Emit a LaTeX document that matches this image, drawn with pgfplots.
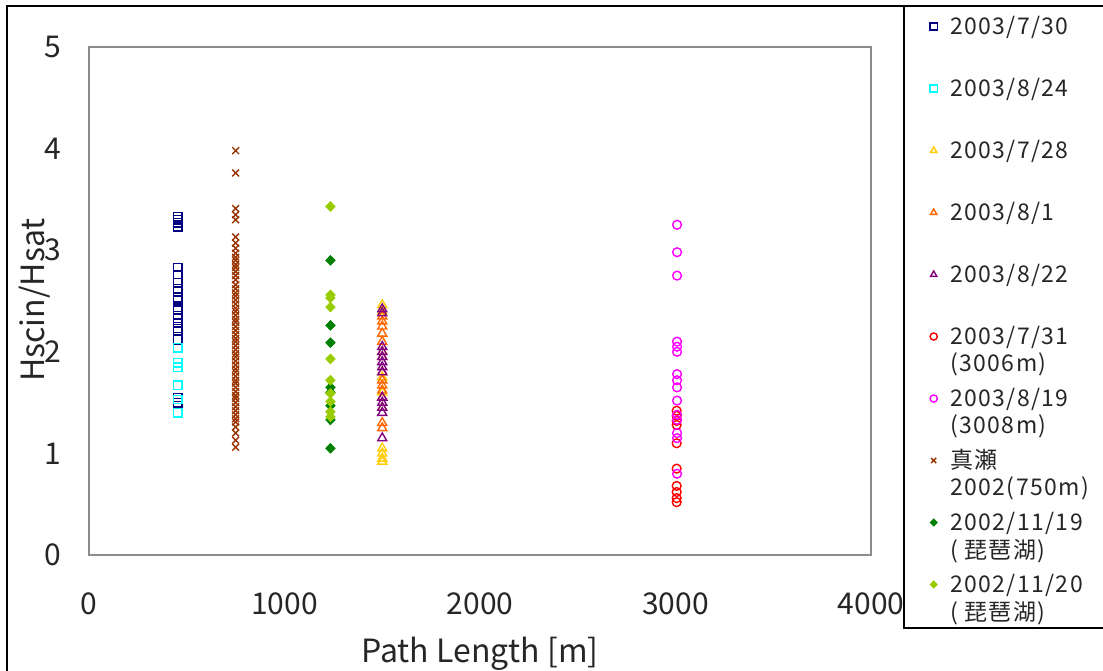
\documentclass[border=0pt]{standalone}
\usepackage{fontspec}
\setmainfont{Noto Sans CJK JP}
\usepackage{pgfplots}
\pgfplotsset{compat=1.18}
\definecolor{cNavy}{HTML}{000080}
\definecolor{cCyan}{HTML}{00FFFF}
\definecolor{cGold}{HTML}{FFCC00}
\definecolor{cOrange}{HTML}{FF6600}
\definecolor{cPurple}{HTML}{800080}
\definecolor{cRed}{HTML}{FF0000}
\definecolor{cMagenta}{HTML}{FF00FF}
\definecolor{cBrown}{HTML}{993300}
\definecolor{cDkGreen}{HTML}{008000}
\definecolor{cLtGreen}{HTML}{99CC00}
\newcommand{\two}[2]{\begin{tabular}[t]{@{}l@{}}#1\\#2\end{tabular}}
\begin{document}
\begin{tikzpicture}
\useasboundingbox (0,0) rectangle (551.5pt,335pt);
% frame and legend box
\draw[line width=1pt] (3.5pt,-5pt) -- (3.5pt,332pt) -- (560pt,332pt);
\draw[line width=0.8pt] (452pt,332pt) -- (452pt,21pt) -- (560pt,21pt);
\begin{axis}[
  at={(44.5pt,57.5pt)}, anchor=south west,
  scale only axis, width=391pt, height=254pt,
  xmin=0, xmax=4000, ymin=0, ymax=5,
  xtick={0,1000,2000,3000,4000}, ytick={0,1,2,3,4,5},
  major tick length=0pt,
  axis line style={draw=black!45, line width=0.8pt},
  tick label style={font=\fontsize{15}{18}\selectfont, text=black!85},
  /pgf/number format/assume math mode=true,
  scaled x ticks=false,
  xticklabel style={/pgf/number format/1000 sep={}, inner sep=0pt, yshift=-18.5pt},
  yticklabel style={inner sep=0pt, xshift=-13.5pt},
  xlabel={Path Length [m]},
  xlabel style={at={(axis description cs:0.5,-0.194)}, anchor=center, font=\fontsize{16}{19}\selectfont, text=black!85},
  ylabel={Hscin/Hsat},
  ylabel style={at={(axis description cs:-0.069,0.502)}, anchor=center, font=\fontsize{16}{19}\selectfont, text=black!85},
  legend style={at={(axis description cs:1.0674,1.110)}, anchor=north west, draw=none, fill=none,
    font=\fontsize{11.5}{13.5}\selectfont\addfontfeatures{LetterSpace=6}, text=black!85, row sep=0pt,
    nodes={inner sep=0pt, text height=19.7pt, text depth=11.3pt},
    /tikz/every odd column/.append style={column sep=6.5pt}},
  legend cell align=left,
  legend image code/.code={\draw[mark repeat=2,mark phase=2,mark size=1.8pt] plot coordinates {(0cm,0cm) (0.15cm,0cm) (0.3cm,0cm)};},
  every axis plot/.append style={only marks, mark options={line width=0.7pt}},
]
\addplot[color=cNavy, mark=square, mark size=2.1pt] coordinates {
 (455,3.33) (455,3.30) (455,3.27) (455,3.23) (455,2.83) (455,2.76) (455,2.68) (455,2.62)
 (455,2.59) (455,2.53) (455,2.51) (455,2.44) (455,2.41) (455,2.33) (455,2.28) (455,2.23)
 (455,2.21) (455,2.12) (455,1.55) (455,1.50)};
\addplot[color=cCyan, mark=square, mark size=2.1pt] coordinates {
 (455,2.04) (455,1.89) (455,1.85) (455,1.67) (455,1.53) (455,1.40)};
\addplot[color=cGold, mark=triangle, mark size=2.6pt] coordinates {
 (1500,2.46) (1500,2.40) (1500,2.00) (1500,1.75) (1500,1.60) (1500,1.45)
 (1500,1.05) (1500,1.00) (1500,0.95) (1500,0.92)};
\addplot[color=cOrange, mark=triangle, mark size=2.6pt] coordinates {
 (1500,2.35) (1500,2.30) (1500,2.25) (1500,2.18) (1500,2.10) (1500,1.95) (1500,1.80)
 (1500,1.72) (1500,1.67) (1500,1.62) (1500,1.55) (1500,1.30) (1500,1.25)};
\addplot[color=cPurple, mark=triangle, mark size=2.6pt] coordinates {
 (1500,2.42) (1500,2.38) (1500,2.05) (1500,2.00) (1500,1.95) (1500,1.90) (1500,1.85)
 (1500,1.80) (1500,1.55) (1500,1.50) (1500,1.45) (1500,1.40) (1500,1.15)};
\addplot[color=cRed, mark=o, mark size=2.2pt] coordinates {
 (3006,1.42) (3006,1.37) (3006,1.32) (3006,1.28) (3006,1.10) (3006,0.85)
 (3006,0.68) (3006,0.62) (3006,0.56) (3006,0.52)};
\addplot[color=cMagenta, mark=o, mark size=2.2pt] coordinates {
 (3008,3.25) (3008,2.98) (3008,2.75) (3008,2.10) (3008,2.05) (3008,2.00) (3008,1.78)
 (3008,1.72) (3008,1.65) (3008,1.52) (3008,1.38) (3008,1.33) (3008,1.20) (3008,1.15) (3008,0.80)};
\addplot[color=cBrown, mark=x, mark size=2.4pt] coordinates {
 (750,3.98) (750,3.76) (750,3.41) (750,3.35) (750,3.30) (750,3.13) (750,3.07)
 (750,3.02) (750,2.97) (750,2.93) (750,2.90) (750,2.86) (750,2.83) (750,2.79) (750,2.75)
 (750,2.71) (750,2.66) (750,2.62) (750,2.58) (750,2.55) (750,2.51) (750,2.47) (750,2.43)
 (750,2.40) (750,2.36) (750,2.32) (750,2.29) (750,2.25) (750,2.21) (750,2.17) (750,2.13)
 (750,2.10) (750,2.06) (750,2.02) (750,1.98) (750,1.95) (750,1.91) (750,1.87) (750,1.83)
 (750,1.80) (750,1.76) (750,1.72) (750,1.69) (750,1.65) (750,1.61) (750,1.57) (750,1.54)
 (750,1.50) (750,1.46) (750,1.42) (750,1.38) (750,1.34) (750,1.31)
 (750,1.26) (750,1.20) (750,1.13) (750,1.06)};
\addplot[color=cDkGreen, mark=diamond*, mark size=2.4pt, mark options={xscale=1.3}] coordinates {
 (1235,2.90) (1235,2.26) (1235,2.09) (1235,1.65) (1235,1.60) (1235,1.47) (1235,1.33) (1235,1.05)};
\addplot[color=cLtGreen, mark=diamond*, mark size=2.4pt, mark options={xscale=1.3}] coordinates {
 (1235,3.43) (1235,2.56) (1235,2.53) (1235,2.44) (1235,1.93) (1235,1.72)
 (1235,1.59) (1235,1.51) (1235,1.41) (1235,1.36)};
\legend{2003/7/30, 2003/8/24, 2003/7/28, 2003/8/1, 2003/8/22,
  \two{2003/7/31}{(3006m)}, \two{2003/8/19}{(3008m)}, \two{真瀬}{2002(750m)},
  \two{2002/11/19}{( 琵琶湖)}, \two{2002/11/20}{( 琵琶湖)}}
\end{axis}
\end{tikzpicture}
\end{document}
